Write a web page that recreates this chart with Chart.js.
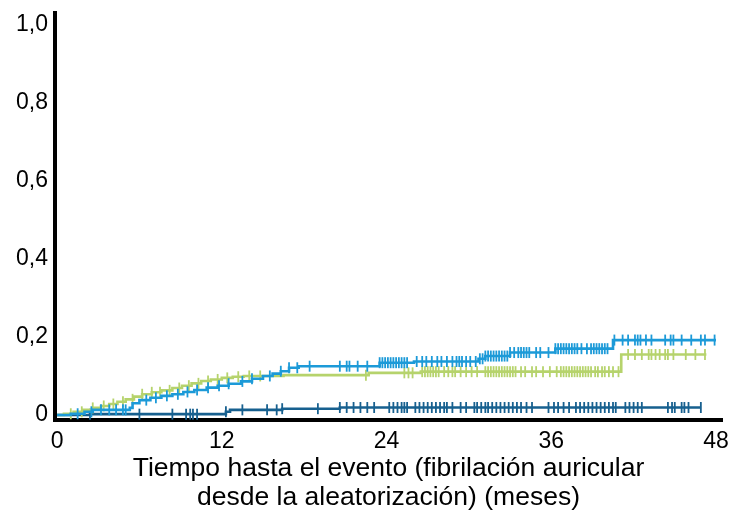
<!DOCTYPE html>
<html>
<head>
<meta charset="utf-8">
<script src="https://cdn.jsdelivr.net/npm/chart.js@4/dist/chart.umd.min.js"></script>
<style>
html,body{margin:0;padding:0;background:#fff;}
#wrap{width:730px;height:513px;}
</style>
</head>
<body>
<div id="wrap"><canvas id="c" width="730" height="513"></canvas></div>
<script>
// ---- Data (months, cumulative incidence) ----
const xTickValues = [0, 12, 24, 36, 48];
const xTickLabels = ['0', '12', '24', '36', '48'];
const yTickValues = [0, 0.2, 0.4, 0.6, 0.8, 1.0];
const yTickLabels = ['0', '0,2', '0,4', '0,6', '0,8', '1,0'];
const xTitle = ['Tiempo hasta el evento (fibrilación auricular', 'desde la aleatorización) (meses)'];

// Light blue series: step times and values
const blueTimes = [0, 1.0, 2.0, 2.6, 5.3, 5.5, 6.0, 6.8, 7.6, 8.4, 9.2, 10.0, 10.9, 11.7, 12.5, 13.4, 14.2, 15.0, 15.7, 16.3, 16.9, 17.6, 23.5, 26.0, 30.7, 31.2, 33.0, 36.3, 40.5, 48.0];
const blueValues = [0, 0.003, 0.008, 0.013, 0.018, 0.03, 0.038, 0.044, 0.049, 0.053, 0.059, 0.064, 0.07, 0.075, 0.08, 0.086, 0.093, 0.1, 0.106, 0.112, 0.121, 0.125, 0.134, 0.137, 0.144, 0.151, 0.16, 0.17, 0.192, 0.192];
const blueCensored = [1.5, 2.5, 3.2, 3.8, 4.3, 4.8, 5.0, 6.5, 7.2, 8.0, 8.8, 9.5, 10.2, 11.0, 11.8, 12.5, 13.5, 14.2, 15.5, 16.3,
  16.9, 17.5, 18.4, 20.6, 21.1, 21.3, 21.9, 22.6, 23.5, 23.7, 23.9, 24.1, 24.3, 24.5, 24.7, 24.9, 25.1, 25.3, 25.5,
  26.2, 26.6, 26.9, 27.3, 27.7, 28.0, 28.4, 28.8, 29.1, 29.3, 29.5, 29.8, 30.1, 30.5,
  30.8, 31.0, 31.2, 31.4, 31.6, 31.8, 32.0, 32.2, 32.4, 32.6, 32.8, 33.0, 33.3, 33.6, 33.8, 34.0, 34.2, 34.4,
  34.9, 35.2, 35.8, 36.3, 36.5, 36.7, 36.9, 37.1, 37.3, 37.5, 37.7, 37.9, 38.2, 38.6, 38.9, 39.1, 39.3, 39.5, 39.7, 39.9, 40.1,
  40.6, 41.2, 41.6, 42.1, 42.3, 42.5, 42.9, 43.3, 44.3, 44.7, 44.9, 45.5, 46.2, 46.9, 47.2, 47.9];

// Light green series
const greenTimes = [0, 0.5, 1.2, 1.9, 2.6, 3.2, 3.8, 4.4, 5.0, 5.6, 6.2, 6.9, 7.6, 8.4, 9.1, 9.8, 10.5, 11.2, 12.0, 12.8, 13.6, 16.5, 22.7, 26.5, 41.1, 47.3];
const greenValues = [0, 0.003, 0.008, 0.013, 0.018, 0.023, 0.028, 0.034, 0.04, 0.047, 0.053, 0.058, 0.063, 0.069, 0.075, 0.081, 0.087, 0.091, 0.095, 0.098, 0.1, 0.102, 0.108, 0.111, 0.155, 0.155];
const greenCensored = [1.0, 1.8, 2.6, 3.4, 4.1, 4.8, 5.5, 6.2, 6.9, 7.5, 8.2, 8.9, 9.6, 10.3, 11.0, 11.7, 12.4, 13.2, 14.0, 14.8,
  22.5, 25.3, 25.6, 25.9, 26.6, 26.8, 27.0, 27.2, 27.4, 27.6, 27.8, 28.2, 28.5, 28.8, 29.0, 29.4, 29.8, 30.2, 30.6,
  31.2, 31.4, 31.6, 31.8, 32.0, 32.2, 32.4, 32.6, 32.8, 33.0, 33.2, 33.4, 33.8, 34.1, 34.6, 34.9, 35.4, 35.9, 36.4,
  36.7, 36.9, 37.1, 37.3, 37.5, 37.7, 37.9, 38.1, 38.3, 38.5, 38.7, 38.9, 39.2, 39.4, 39.7, 39.9, 40.2, 40.5, 40.9,
  41.6, 42.1, 42.6, 43.1, 43.3, 43.6, 43.9, 44.3, 44.5, 44.9, 45.8, 46.5, 47.2];

// Dark blue series
const darkTimes = [0, 2.4, 12.3, 12.6, 16.4, 20.6, 46.9];
const darkValues = [0, 0.002, 0.008, 0.013, 0.016, 0.019, 0.019];
const darkCensored = [2.4, 6.0, 8.4, 9.4, 9.7, 9.9, 10.2, 12.3, 13.5, 15.3, 16.0, 16.4, 19.0, 20.6, 21.1, 21.6, 22.1, 22.6, 23.1,
  24.2, 24.5, 24.8, 25.1, 25.3, 25.5, 26.1, 26.4, 26.7, 27.0, 27.3, 27.6, 27.9, 28.2, 28.4, 28.8, 29.4, 29.8, 30.4, 30.6,
  30.9, 31.2, 31.4, 31.7, 32.0, 32.3, 32.6, 32.9, 33.2, 33.5, 33.8, 34.2, 34.6, 35.8, 36.2, 36.5, 36.9, 37.3,
  37.8, 38.1, 38.4, 38.7, 39.0, 39.3, 39.6, 39.9, 40.2, 40.5, 40.7, 41.4, 41.7, 42.0, 42.3, 42.6, 44.5, 44.8, 45.0,
  45.5, 45.7, 46.0, 46.9];

const colBlue = '#1c9ad8';
const colGreen = '#b6d36c';
const colDark = '#17608f';

// ---- helpers ----
function stepPoints(ts, vs) { return ts.map((t, i) => ({x: t, y: vs[i]})); }
function valueAt(ts, vs, t) {
  let v = vs[0];
  for (let i = 0; i < ts.length; i++) { if (ts[i] <= t) v = vs[i]; else break; }
  return v;
}
function censorPoints(ts, vs, cs) { return cs.map(t => ({x: t, y: valueAt(ts, vs, t)})); }

function lineDs(label, ts, vs, color) {
  return {label, data: stepPoints(ts, vs), stepped: true, borderColor: color, borderWidth: 2.6,
    pointRadius: 0, fill: false, clip: false};
}
function censorDs(label, ts, vs, cs, color) {
  return {label, data: censorPoints(ts, vs, cs), showLine: false, pointStyle: 'line', rotation: 90,
    pointRadius: 5.5, pointBorderWidth: 1.8, borderColor: color, backgroundColor: color, clip: false};
}

const fontFam = "'Liberation Sans', Arial, sans-serif";

new Chart(document.getElementById('c'), {
  type: 'line',
  data: {
    datasets: [
      lineDs('blue', blueTimes, blueValues, colBlue),
      censorDs('blue-c', blueTimes, blueValues, blueCensored, colBlue),
      lineDs('green', greenTimes, greenValues, colGreen),
      censorDs('green-c', greenTimes, greenValues, greenCensored, colGreen),
      lineDs('dark', darkTimes, darkValues, colDark),
      censorDs('dark-c', darkTimes, darkValues, darkCensored, colDark)
    ]
  },
  options: {
    responsive: false,
    animation: false,
    layout: {padding: {left: 0, right: 8, top: 13, bottom: 0}},
    plugins: {legend: {display: false}, tooltip: {enabled: false}},
    scales: {
      x: {
        type: 'linear',
        min: -0.15,
        max: 48.44,
        afterBuildTicks: s => { s.ticks = xTickValues.map(v => ({value: v})); },
        afterFit: s => { s.height = 93; s.paddingLeft = 0; s.paddingRight = 0; },
        grid: {display: false, drawTicks: false},
        border: {display: true, color: '#000', width: 4},
        ticks: {
          padding: 8,
          color: '#000',
          font: {family: fontFam, size: 23},
          maxRotation: 0,
          autoSkip: false,
          callback: (v, i) => xTickLabels[i]
        },
        title: {
          display: true,
          text: xTitle,
          color: '#000',
          font: {family: fontFam, size: 26.5, lineHeight: 1.113},
          padding: {top: 0, bottom: 0.5}
        }
      },
      y: {
        type: 'linear',
        min: -0.013,
        max: 1.031,
        afterBuildTicks: s => { s.ticks = yTickValues.map(v => ({value: v})); },
        afterFit: s => { s.width = 55; s.paddingTop = 0; s.paddingBottom = 0; },
        grid: {display: false, drawTicks: false},
        border: {display: true, color: '#000', width: 4},
        ticks: {
          padding: 7,
          color: '#000',
          font: {family: fontFam, size: 23},
          autoSkip: false,
          callback: (v, i) => yTickLabels[i]
        }
      }
    }
  }
});
</script>
</body>
</html>
